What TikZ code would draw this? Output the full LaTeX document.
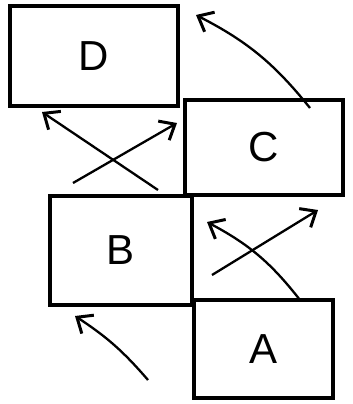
\documentclass[tikz,border=0pt]{standalone}
\usepackage{fontspec}
\setmainfont{Liberation Sans}
\usetikzlibrary{arrows.meta}
\begin{document}
\begin{tikzpicture}[x=1pt,y=-1pt,
  box/.style={draw,line width=4pt,rectangle,inner sep=0pt,font=\fontsize{42}{42}\selectfont},
  arr/.style={line width=2.3pt,-{Straight Barb[length=13pt,width=22pt,line width=3pt]}}]
\useasboundingbox (0,0) rectangle (353,404);
\node[box,minimum width=168pt,minimum height=100pt] (D) at (94,56) {D};
\node[box,minimum width=158pt,minimum height=95pt] (C) at (264,147.5) {C};
\node[box,minimum width=142pt,minimum height=109pt] (B) at (121,250.5) {B};
\node[box,minimum width=139pt,minimum height=98pt] (A) at (263.5,349) {A};
\coordinate (c1) at (310,108);
\coordinate (t1) at (196,15);
\coordinate (s2) at (158,190);
\coordinate (t2) at (42,112);
\coordinate (s3) at (73,183);
\coordinate (t3) at (177,123);
\coordinate (s4) at (300,300);
\coordinate (t4) at (207,222);
\coordinate (s5) at (212,275);
\coordinate (t5) at (318,210);
\coordinate (s6) at (148,380);
\coordinate (t6) at (75,316);
\draw[arr] (c1) to[bend right=12] (t1);
\draw[arr] (s2) -- (t2);
\draw[arr] (s3) -- (t3);
\draw[arr] (s4) to[bend right=12] (t4);
\draw[arr] (s5) -- (t5);
\draw[arr] (s6) to[bend right=8] (t6);
\end{tikzpicture}
\end{document}
